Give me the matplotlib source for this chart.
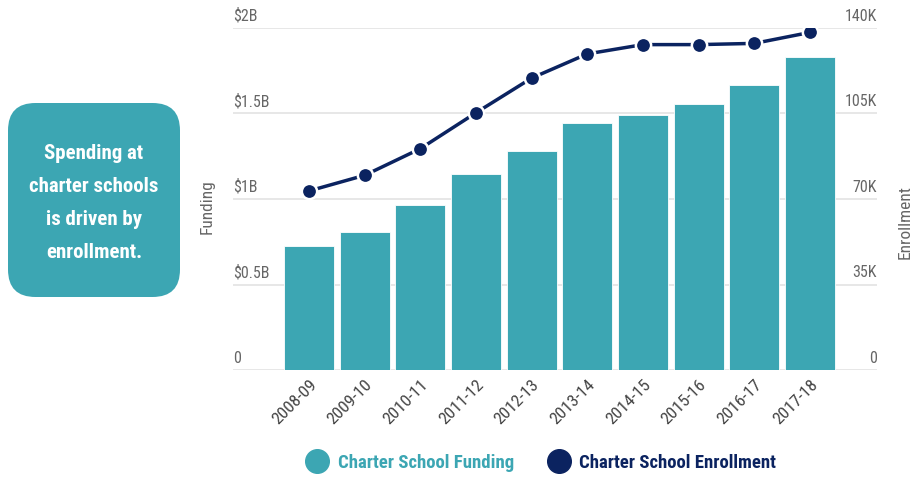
import matplotlib
matplotlib.use("Agg")
import matplotlib.pyplot as plt
from matplotlib.lines import Line2D
from matplotlib.patches import FancyBboxPatch
import matplotlib.transforms as mtransforms

categories = ["2008-09", "2009-10", "2010-11", "2011-12", "2012-13",
              "2013-14", "2014-15", "2015-16", "2016-17", "2017-18"]
funding = [0.727e9, 0.809e9, 0.963e9, 1.149e9, 1.278e9,
           1.442e9, 1.489e9, 1.553e9, 1.665e9, 1.831e9]
enrollment = [73300, 79700, 90600, 105300, 119500,
              129400, 133200, 133200, 133700, 138200]
left_ticks = [0, 0.5e9, 1e9, 1.5e9, 2e9]
left_labels = ["0", "$0.5B", "$1B", "$1.5B", "$2B"]
right_ticks = [0, 35000, 70000, 105000, 140000]
right_labels = ["0", "35K", "70K", "105K", "140K"]

TEAL = "#3ca6b3"
NAVY = "#0b2360"
GRID = "#e3e3e3"
TICK = "#666666"
FONT = ["Liberation Sans Narrow", "Roboto Condensed", "DejaVu Sans"]
plt.rcParams["font.family"] = FONT

W, H = 915, 478
fig = plt.figure(figsize=(W / 100, H / 100), dpi=100)
ax = fig.add_axes([233 / W, 1 - 370 / H, (877 - 233) / W, (370 - 28) / H])
ax2 = ax.twinx()

x = list(range(len(categories)))
ax.bar(x, funding, width=0.9, color=TEAL, edgecolor="white", linewidth=0.6, zorder=2)
ax.set_ylim(0, 2e9)
ax.set_xlim(-1.365, 10.204)
for t in left_ticks:
    ax.axhline(t, color=GRID, lw=1.2, zorder=0)

ax2.plot(x, enrollment, color=NAVY, lw=2.5, marker="o", ms=11,
         markeredgecolor="white", markeredgewidth=1.8, zorder=3)
ax2.set_ylim(0, 140000)

for a in (ax, ax2):
    for s in a.spines.values():
        s.set_visible(False)
    a.set_yticks([])
ax.set_xticks(x)
ax.set_xticklabels(categories, rotation=45, ha="right", rotation_mode="anchor",
                   fontsize=12.5, color="#444444")
ax.tick_params(axis="x", length=0, pad=5)
ax2.set_zorder(ax.get_zorder() + 1)
ax2.patch.set_visible(False)

tl = mtransforms.blended_transform_factory(ax.transAxes, ax.transData)
tl_off = mtransforms.offset_copy(tl, fig=fig, x=0, y=3, units="points")
for t, l in zip(left_ticks, left_labels):
    ax.text(0, t, l, transform=tl_off, ha="left", va="bottom", fontsize=11.5, color=TICK)
tr = mtransforms.blended_transform_factory(ax2.transAxes, ax2.transData)
tr_off = mtransforms.offset_copy(tr, fig=fig, x=0, y=3, units="points")
for t, l in zip(right_ticks, right_labels):
    ax2.text(1, t, l, transform=tr_off, ha="right", va="bottom", fontsize=11.5, color=TICK)

fig.text(207 / W, 1 - 207 / H, "Funding", rotation=90, ha="center", va="center",
         fontsize=12.5, color=TICK)
fig.text(905 / W, 1 - 222 / H, "Enrollment", rotation=90, ha="center", va="center",
         fontsize=12.5, color=TICK)

# Callout box
box = FancyBboxPatch((8 / W, 1 - 297 / H), (180 - 8) / W, (297 - 103) / H,
                     boxstyle="round,pad=0,rounding_size=0.03",
                     transform=fig.transFigure, facecolor=TEAL, edgecolor="none",
                     mutation_aspect=W / H)
fig.patches.append(box)
fig.text(94 / W, 1 - 203 / H, "Spending at\ncharter schools\nis driven by\nenrollment.",
         ha="center", va="center", color="white", fontsize=15, fontweight="bold",
         linespacing=1.95)

handles = [Line2D([], [], marker="o", ls="none", ms=17, color=TEAL),
           Line2D([], [], marker="o", ls="none", ms=17, color=NAVY)]
leg = fig.legend(handles, ["Charter School Funding", "Charter School Enrollment"],
                 loc="center", bbox_to_anchor=(541 / W, 1 - 463 / H), ncol=2,
                 frameon=False, prop={"size": 13.5, "weight": "bold"},
                 labelcolor=[TEAL, NAVY], handletextpad=0.5, columnspacing=1.8,
                 handlelength=1.2)

fig.savefig("out.png", dpi=100)
